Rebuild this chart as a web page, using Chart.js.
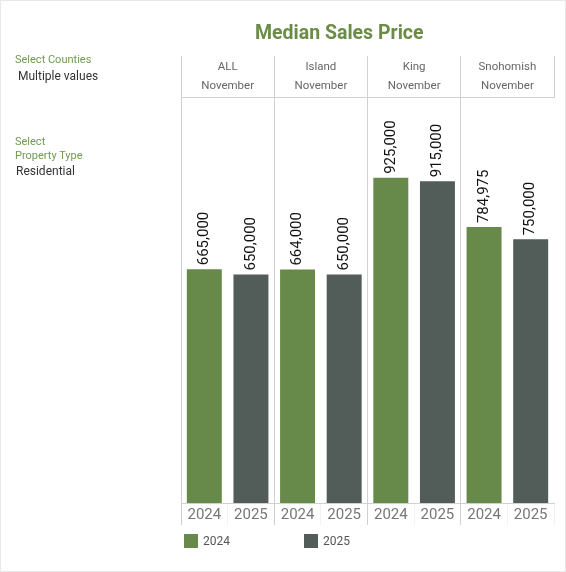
<!DOCTYPE html>
<html>
<head>
<meta charset="utf-8">
<script src="https://cdn.jsdelivr.net/npm/chart.js@4.4.1/dist/chart.umd.min.js"></script>
<style>
body { margin: 0; background: #fff; font-family: Roboto, sans-serif; }
#wrap { position: relative; width: 566px; height: 572px; box-shadow: inset 0 0 0 1px #e8e8e8; }
#chart { position: absolute; left: 0; top: 0; }
.t { position: absolute; white-space: nowrap; line-height: 14px; }
.lbl { color: #6f9a52; font-size: 11px; }
.val { color: #333; font-size: 12px; }
#title { position: absolute; left: 255px; top: 20px; font-size: 19.5px; font-weight: bold; color: #6a8c46; line-height: 26px; white-space: nowrap; }
.key { position: absolute; top: 534px; width: 14px; height: 14px; }
.keytxt { position: absolute; top: 534px; font-size: 12px; color: #555; line-height: 14px; }
</style>
</head>
<body>
<div id="wrap">
  <canvas id="chart" width="566" height="572"></canvas>
  <div id="title">Median Sales Price</div>
  <div class="t lbl" style="left:15px;top:53px">Select Counties</div>
  <div class="t val" style="left:18px;top:69px">Multiple values</div>
  <div class="t lbl" style="left:15px;top:135px">Select</div>
  <div class="t lbl" style="left:15px;top:149px">Property Type</div>
  <div class="t val" style="left:16px;top:164px">Residential</div>
  <div id="legend"></div>
</div>
<script>
// values
var counties = ["ALL", "Island", "King", "Snohomish"];
var month = "November";
var years = ["2024", "2025"];
var price2024 = [665000, 664000, 925000, 784975];
var price2025 = [650000, 650000, 915000, 750000];
var yearColors = ["#67894a", "#525c59"];

var grey = "#d0d0d0";

// one category per bar: 2024, 2025 under each county
var barLabels = [];
var data2024 = [];
var data2025 = [];
counties.forEach(function (c, i) {
    barLabels.push(years[0], years[1]);
    data2024.push(price2024[i], null);
    data2025.push(null, price2025[i]);
});

// rotated value labels above each bar
var valueLabels = {
    id: "valueLabels",
    afterDatasetsDraw: function (chart) {
        var ctx = chart.ctx;
        ctx.save();
        ctx.font = "15px Roboto";
        ctx.fillStyle = "#111";
        ctx.textAlign = "left";
        ctx.textBaseline = "middle";
        chart.data.datasets.forEach(function (ds, di) {
            chart.getDatasetMeta(di).data.forEach(function (bar, i) {
                if (ds.data[i] == null) return;
                ctx.save();
                ctx.translate(bar.x, bar.y - 4);
                ctx.rotate(-Math.PI / 2);
                ctx.fillText(ds.data[i].toLocaleString("en-US"), 0, 0);
                ctx.restore();
            });
        });
        ctx.restore();
    }
};

var chart = new Chart(document.getElementById("chart"), {
    type: "bar",
    data: {
        labels: barLabels,
        datasets: [
            { label: years[0], data: data2024, backgroundColor: yearColors[0] },
            { label: years[1], data: data2025, backgroundColor: yearColors[1] }
        ]
    },
    options: {
        responsive: false,
        animation: false,
        layout: { padding: { left: 181, right: 12, top: 56, bottom: 47 } },
        datasets: { bar: { grouped: false, barPercentage: 0.75, categoryPercentage: 1 } },
        plugins: { legend: { display: false }, tooltip: { enabled: false } },
        scales: {
            x: {
                offset: true,
                grid: {
                    offset: true,
                    tickLength: 22,
                    color: function (c) { return c.index % 2 === 0 ? grey : "rgba(0,0,0,0)"; },
                    tickColor: function (c) { return c.index % 2 === 0 ? grey : "#f2f2f2"; }
                },
                border: { display: true, color: grey },
                ticks: { padding: -19, color: "#777", font: { family: "Roboto", size: 15 }, autoSkip: false, maxRotation: 0 },
                afterFit: function (s) { s.height = 22; }
            },
            x2: {
                type: "category",
                position: "top",
                labels: counties.map(function (c) { return [c, month]; }),
                offset: true,
                grid: { offset: true, drawOnChartArea: false, tickLength: 41, color: grey },
                border: { display: true, color: grey },
                ticks: { padding: -40, color: "#666", font: { family: "Roboto", size: 11.5, lineHeight: 1.65 }, autoSkip: false, maxRotation: 0 },
                afterFit: function (s) { s.height = 41; }
            },
            y: { display: false, min: 0, max: 1155000 }
        }
    },
    plugins: [valueLabels]
});

// legend built from the datasets
var legend = document.getElementById("legend");
chart.data.datasets.forEach(function (ds, i) {
    var left = 184 + i * 120;
    var box = document.createElement("div");
    box.className = "key";
    box.style.left = left + "px";
    box.style.background = ds.backgroundColor;
    legend.appendChild(box);
    var txt = document.createElement("div");
    txt.className = "keytxt";
    txt.style.left = (left + 19) + "px";
    txt.textContent = ds.label;
    legend.appendChild(txt);
});
</script>
</body>
</html>
